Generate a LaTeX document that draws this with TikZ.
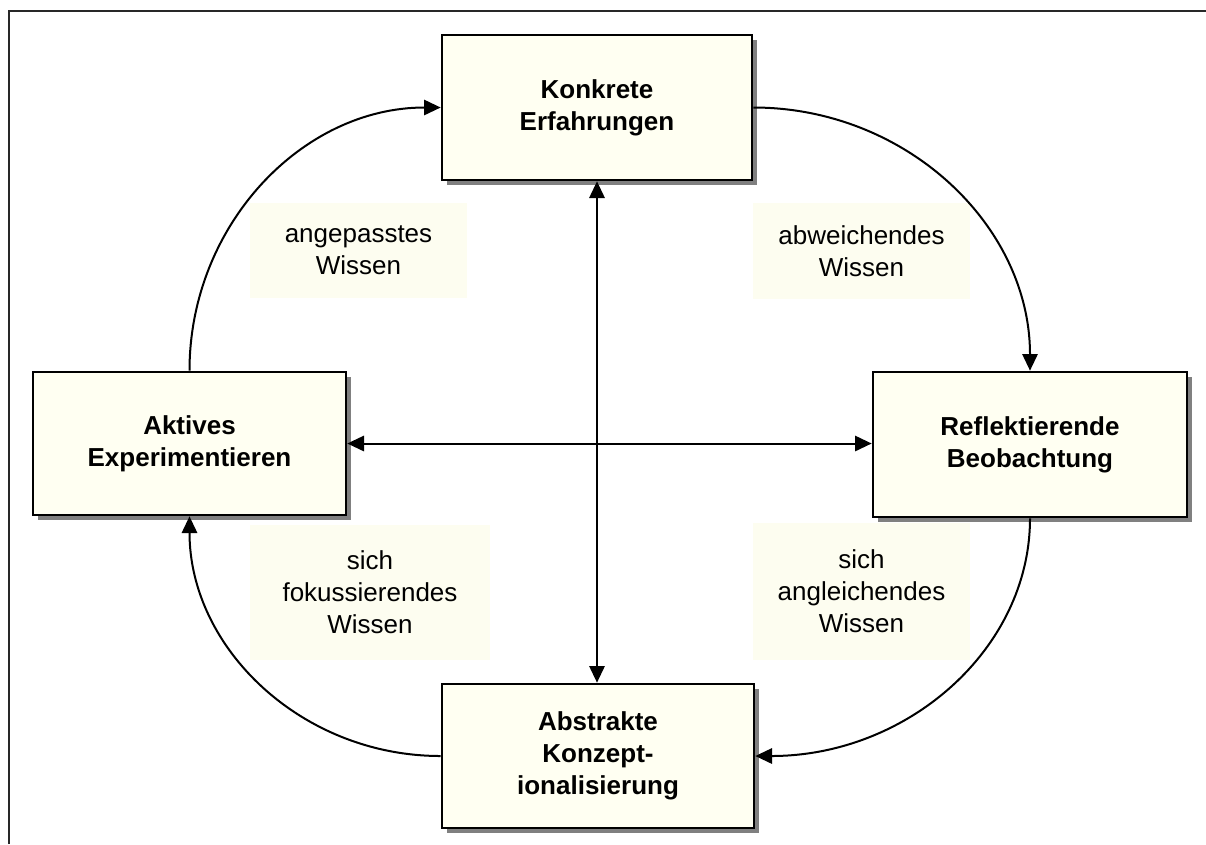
\documentclass[tikz,border=0pt]{standalone}
\usepackage{fontspec}
\setmainfont{Liberation Sans}
\usetikzlibrary{arrows.meta,shadows,calc}

\definecolor{boxfill}{RGB}{255,255,242}
\definecolor{labelfill}{RGB}{253,253,240}
\definecolor{shadowgray}{RGB}{128,128,128}
\definecolor{framegray}{RGB}{40,40,40}

\tikzset{
  stagebox/.style={draw=black, line width=2pt, fill=boxfill, align=center,
    font=\fontsize{19.5}{24}\selectfont\bfseries, inner sep=0pt,
    drop shadow={shadow xshift=4pt, shadow yshift=-4pt, fill=shadowgray, opacity=1}},
  knowbox/.style={fill=labelfill, align=center, inner sep=0pt,
    font=\fontsize{19.5}{24}\selectfont},
  flow/.style={line width=1.5pt, -{Triangle[length=12.5pt,width=11.5pt]}},
  twoway/.style={line width=1.5pt, {Triangle[length=12.5pt,width=11.5pt]}-{Triangle[length=12.5pt,width=11.5pt]}}
}

\begin{document}
\begin{tikzpicture}[x=0.75pt, y=-0.75pt]
  \useasboundingbox (0,0) rectangle (1206,844);
  \fill[white] (0,0) rectangle (1206,844);

  % outer frame
  \draw[framegray, line width=2pt] (9,844) -- (9,11) -- (1206,11);

  % knowledge labels
  \node[knowbox, minimum width=162.75pt, minimum height=71.25pt] (kA) at (358.5,250.5) {angepasstes\\Wissen};
  \node[knowbox, minimum width=162.75pt, minimum height=72pt] (kB) at (861.5,251) {abweichendes\\Wissen};
  \node[knowbox, minimum width=180pt, minimum height=101.25pt] (kC) at (370,592.5) {sich\\fokussierendes\\Wissen};
  \node[knowbox, minimum width=162.75pt, minimum height=102.75pt] (kD) at (861.5,591.5) {sich\\angleichendes\\Wissen};

  % learning stages
  \node[stagebox, minimum width=232.5pt, minimum height=108.75pt] (K) at (597,107.5) {Konkrete\\Erfahrungen};
  \node[stagebox, minimum width=234.75pt, minimum height=107.25pt] (A) at (189.5,443.5) {Aktives\\Experimentieren};
  \node[stagebox, minimum width=235.5pt, minimum height=108.75pt] (R) at (1030,444.5) {Reflektierende\\Beobachtung};
  \node[stagebox, minimum width=234pt, minimum height=108pt] (B) at (598,756) {Abstrakte\\Konzept-\\ionalisierung};

  % axes
  \draw[twoway] (K.south) -- (K.south |- B.north);
  \draw[twoway] (A.east) -- (A.east -| R.west);

  % cycle
  \draw[flow] (K.east) .. controls ($(K.east)!0.552!(R.north |- K.east)$)
    and ($(R.north)!0.552!(R.north |- K.east)$) .. (R.north);
  \draw[flow] (R.south) .. controls ($(R.south)!0.552!(R.south |- B.east)$)
    and ($(B.east)!0.552!(R.south |- B.east)$) .. (B.east);
  \draw[flow] (B.west) .. controls ($(B.west)!0.552!(A.south |- B.west)$)
    and ($(A.south)!0.552!(A.south |- B.west)$) .. (A.south);
  \draw[flow] (A.north) .. controls ($(A.north)!0.552!(A.north |- K.west)$)
    and ($(K.west)!0.552!(A.north |- K.west)$) .. (K.west);
\end{tikzpicture}
\end{document}
